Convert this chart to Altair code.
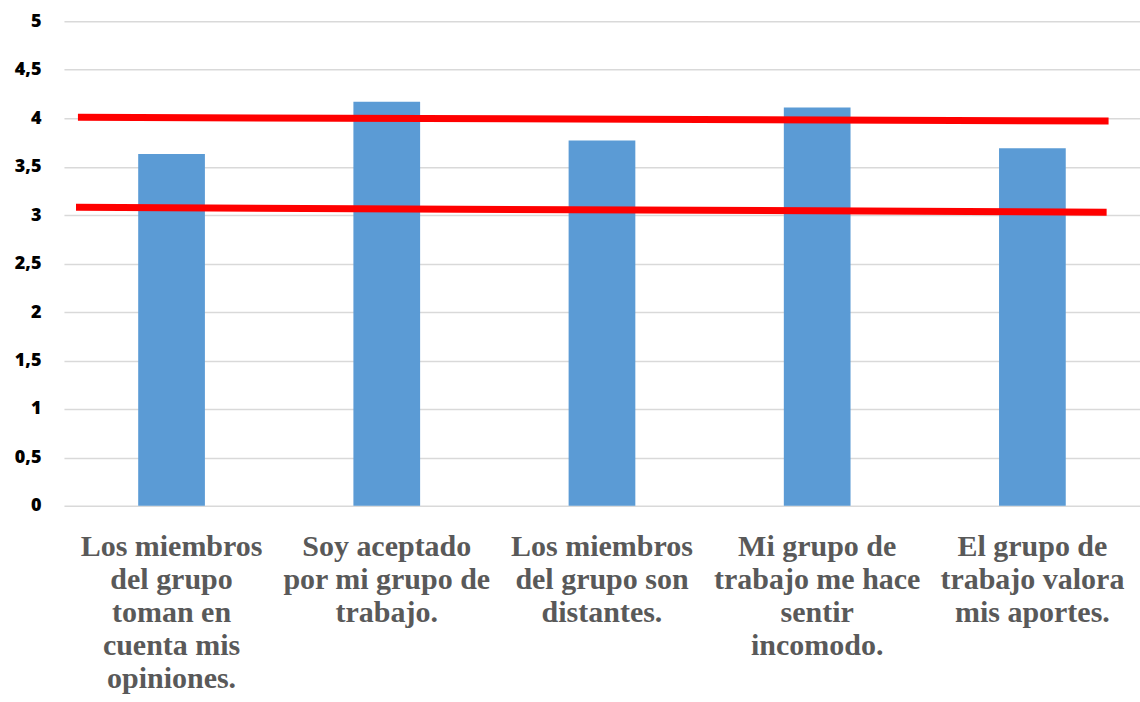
import altair as alt
import pandas as pd

# Survey items (line breaks marked with "|") and their mean scores
items = [
    "Los miembros|del grupo|toman en|cuenta mis|opiniones.",
    "Soy aceptado|por mi grupo de|trabajo.",
    "Los miembros|del grupo son|distantes.",
    "Mi grupo de|trabajo me hace|sentir|incomodo.",
    "El grupo de|trabajo valora|mis aportes.",
]
means = [3.63, 4.17, 3.77, 4.11, 3.69]

# Reference lines: position along the category span (0..5) and level
upper_x = [0.065, 4.854]
upper_y = [4.01, 3.97]
lower_x = [0.056, 4.845]
lower_y = [3.08, 3.03]

bars_df = pd.DataFrame({"item": items, "mean": means})
lines_df = pd.DataFrame({
    "pos": upper_x + lower_x,
    "level": upper_y + lower_y,
    "ref": ["alto", "alto", "bajo", "bajo"],
})

y_scale = alt.Scale(domain=[0, 5], nice=False)
y_axis = alt.Axis(
    title=None,
    values=[0, 0.5, 1, 1.5, 2, 2.5, 3, 3.5, 4, 4.5, 5],
    labelExpr="replace(format(datum.value, '~g'), '.', ',')",
    labelFont="Open Sans",
    labelFontSize=18,
    labelFontWeight=800,
    labelColor="#000000",
    labelPadding=23,
    ticks=False,
    domain=False,
    grid=True,
    gridColor="#D9D9D9",
    gridWidth=1.5,
)

bars = alt.Chart(bars_df).mark_bar(color="#5B9BD5").encode(
    x=alt.X(
        "item:N",
        sort=items,
        scale=alt.Scale(paddingInner=0.69, paddingOuter=0.345),
        axis=alt.Axis(
            title=None,
            labelAngle=0,
            labelExpr="split(datum.value, '|')",
            labelFont="Liberation Serif",
            labelFontSize=30,
            labelFontWeight="bold",
            labelColor="#595959",
            labelLineHeight=33,
            labelBaseline="top",
            labelPadding=26,
            labelLimit=400,
            labelOverlap=False,
            ticks=False,
            domain=False,
            grid=False,
        ),
    ),
    y=alt.Y("mean:Q", scale=y_scale, axis=y_axis),
)

lines = alt.Chart(lines_df).mark_line(color="#FF0000", strokeWidth=7).encode(
    x=alt.X("pos:Q", scale=alt.Scale(domain=[0, 5], nice=False), axis=None),
    y=alt.Y("level:Q", scale=y_scale, axis=y_axis),
    detail="ref:N",
)

chart = (
    alt.layer(bars, lines)
    .resolve_scale(x="independent")
    .properties(
        width=1077,
        height=485,
        padding={"left": 64, "top": 21, "right": 0, "bottom": 196},
        autosize=alt.AutoSizeParams(type="none"),
        background="white",
    )
    .configure_view(stroke=None)
)

chart.save("out.html", embed_options={"renderer": "svg", "actions": False})
